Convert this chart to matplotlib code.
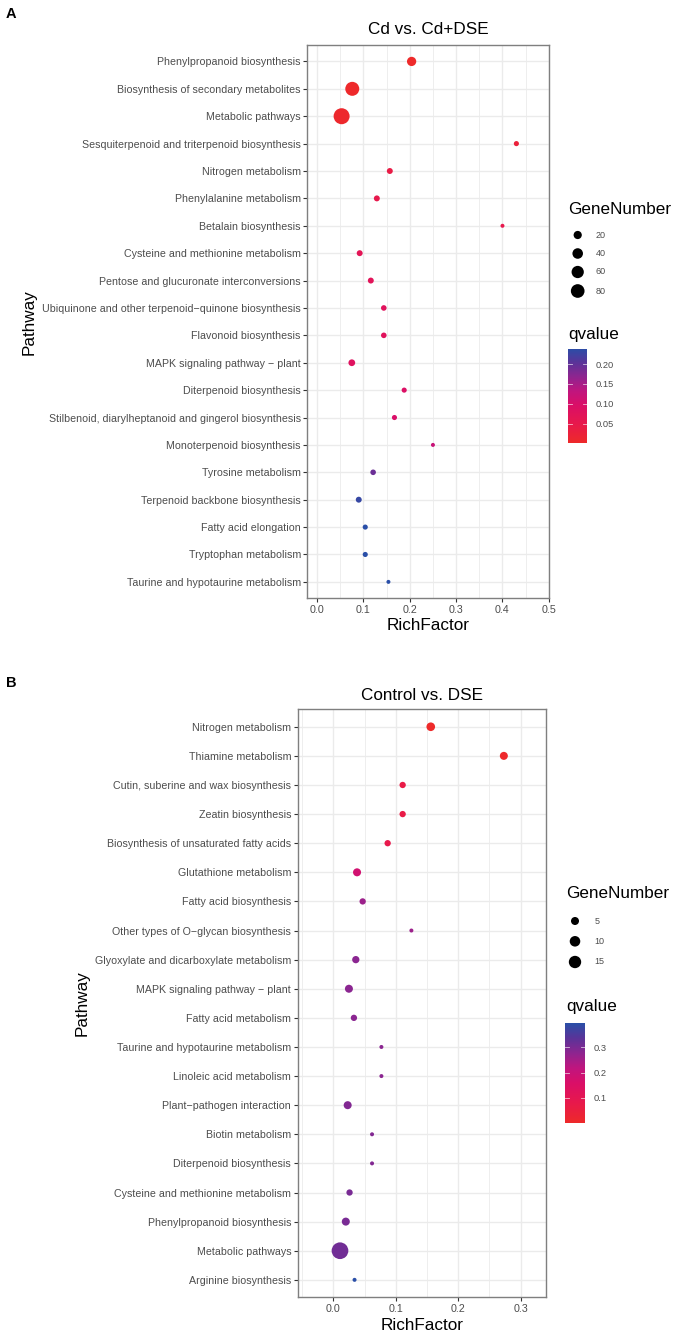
import numpy as np
import matplotlib
matplotlib.use('Agg')
import matplotlib.pyplot as plt
from matplotlib.colors import LinearSegmentedColormap

plt.rcParams['font.family'] = ['Liberation Sans', 'DejaVu Sans']

W, H = 681, 1336

# ---------------- Panel A data ----------------
a_title = "Cd vs. Cd+DSE"
a_pathways = [
    "Phenylpropanoid biosynthesis",
    "Biosynthesis of secondary metabolites",
    "Metabolic pathways",
    "Sesquiterpenoid and triterpenoid biosynthesis",
    "Nitrogen metabolism",
    "Phenylalanine metabolism",
    "Betalain biosynthesis",
    "Cysteine and methionine metabolism",
    "Pentose and glucuronate interconversions",
    "Ubiquinone and other terpenoid\u2212quinone biosynthesis",
    "Flavonoid biosynthesis",
    "MAPK signaling pathway \u2212 plant",
    "Diterpenoid biosynthesis",
    "Stilbenoid, diarylheptanoid and gingerol biosynthesis",
    "Monoterpenoid biosynthesis",
    "Tyrosine metabolism",
    "Terpenoid backbone biosynthesis",
    "Fatty acid elongation",
    "Tryptophan metabolism",
    "Taurine and hypotaurine metabolism",
]
a_rich = [0.204, 0.076, 0.053, 0.430, 0.157, 0.129, 0.400, 0.092, 0.116, 0.144,
          0.144, 0.075, 0.188, 0.167, 0.250, 0.121, 0.090, 0.104, 0.104, 0.154]
a_genes = [28, 85, 120, 7, 9, 9, 6, 9, 9, 8,
           8, 12, 7, 7, 6, 8, 9, 7, 7, 6]
a_qvalue = [0.001, 0.003, 0.006, 0.025, 0.040, 0.050, 0.050, 0.065, 0.070, 0.075,
            0.075, 0.080, 0.090, 0.095, 0.120, 0.190, 0.228, 0.237, 0.237, 0.237]
a_xticks = [0.0, 0.1, 0.2, 0.3, 0.4, 0.5]
a_xticklabels = ["0.0", "0.1", "0.2", "0.3", "0.4", "0.5"]
a_size_breaks = [20, 40, 60, 80]
a_q_ticks = [0.05, 0.10, 0.15, 0.20]
a_q_labels = ["0.05", "0.10", "0.15", "0.20"]

# ---------------- Panel B data ----------------
b_title = "Control vs. DSE"
b_pathways = [
    "Nitrogen metabolism",
    "Thiamine metabolism",
    "Cutin, suberine and wax biosynthesis",
    "Zeatin biosynthesis",
    "Biosynthesis of unsaturated fatty acids",
    "Glutathione metabolism",
    "Fatty acid biosynthesis",
    "Other types of O\u2212glycan biosynthesis",
    "Glyoxylate and dicarboxylate metabolism",
    "MAPK signaling pathway \u2212 plant",
    "Fatty acid metabolism",
    "Taurine and hypotaurine metabolism",
    "Linoleic acid metabolism",
    "Plant\u2212pathogen interaction",
    "Biotin metabolism",
    "Diterpenoid biosynthesis",
    "Cysteine and methionine metabolism",
    "Phenylpropanoid biosynthesis",
    "Metabolic pathways",
    "Arginine biosynthesis",
]
b_rich = [0.156, 0.273, 0.111, 0.111, 0.087, 0.038, 0.047, 0.125, 0.036, 0.025,
          0.033, 0.077, 0.077, 0.023, 0.062, 0.062, 0.026, 0.020, 0.0107, 0.034]
b_genes = [6, 5, 3, 3, 3, 5, 3, 2, 4, 5,
           3, 2, 2, 5, 2, 2, 3, 5, 32, 2]
b_qvalue = [0.002, 0.008, 0.070, 0.070, 0.080, 0.180, 0.260, 0.260, 0.280, 0.280,
            0.280, 0.280, 0.280, 0.290, 0.290, 0.290, 0.300, 0.300, 0.310, 0.395]
b_xticks = [0.0, 0.1, 0.2, 0.3]
b_xticklabels = ["0.0", "0.1", "0.2", "0.3"]
b_size_breaks = [5, 10, 15]
b_q_ticks = [0.1, 0.2, 0.3]
b_q_labels = ["0.1", "0.2", "0.3"]

cmap = LinearSegmentedColormap.from_list('q', [
    (0.00, '#EE2A2A'), (0.20, '#E8194C'), (0.40, '#DA0F68'), (0.55, '#C0167F'),
    (0.70, '#8E2590'), (0.85, '#5A3499'), (1.00, '#2A4FA8')], N=512)

TXT = '#4D4D4D'


def diam_px(g, gmin, gmax, dmin=4.0, dmax=16.0):
    g = np.asarray(g, dtype=float)
    return dmin + (dmax - dmin) * np.sqrt((g - gmin) / (gmax - gmin))


fig = plt.figure(figsize=(W / 100, H / 100), dpi=100)
overlay = fig.add_axes([0, 0, 1, 1])
overlay.set_xlim(0, W)
overlay.set_ylim(H, 0)
overlay.axis('off')
overlay.set_zorder(5)


def panel(box, title, title_y, xlab_y, paths, rich, genes, q, xlim, xticks, xlabels,
          size_breaks, qticks, qlabels, leg, dmax):
    l, t, r, b = box
    ax = fig.add_axes([l / W, 1 - b / H, (r - l) / W, (b - t) / H])
    n = len(paths)
    y = np.arange(n)
    gmin, gmax = min(genes), max(genes)
    d = diam_px(genes, gmin, gmax, dmax=dmax)
    qmin, qmax = min(q), max(q)
    ax.scatter(rich, y, s=(d * 0.72) ** 2, c=q, cmap=cmap, vmin=qmin, vmax=qmax,
               edgecolors='none', zorder=3)
    ax.set_xlim(*xlim)
    ax.set_ylim(n - 1 + 0.6, -0.6)
    ax.set_yticks(y)
    ax.set_yticklabels(paths)
    ax.set_xticks(xticks)
    ax.set_xticklabels(xlabels)
    step = xticks[1] - xticks[0]
    minors = [xticks[0] - step / 2] + [v + step / 2 for v in xticks]
    minors = [m for m in minors if xlim[0] < m < xlim[1]]
    ax.set_xticks(minors, minor=True)
    ax.grid(True, which='major', color='#EBEBEB', lw=1.0)
    ax.grid(True, which='minor', axis='x', color='#EBEBEB', lw=0.6)
    ax.set_axisbelow(True)
    ax.tick_params(which='major', length=3.2, width=0.8, color='#333333',
                   labelsize=7.7, labelcolor=TXT, pad=1.5)
    ax.tick_params(which='minor', length=0)
    for sp in ax.spines.values():
        sp.set_color('#7F7F7F')
        sp.set_linewidth(1.0)

    cx = (l + r) / 2
    fig.text(cx / W, 1 - title_y / H, title, ha='center', va='center', fontsize=12.3,
             color='black')
    fig.text(cx / W, 1 - xlab_y / H, "RichFactor", ha='center', va='center',
             fontsize=12.3, color='black')

    # Pathway label placed left of the widest tick label
    fig.canvas.draw()
    rend = fig.canvas.get_renderer()
    x0 = min(lbl.get_window_extent(rend).x0 for lbl in ax.get_yticklabels())
    fig.text((x0 - 12.5) / W, 1 - ((t + b) / 2) / H, "Pathway", rotation=90,
             ha='center', va='center', fontsize=12.3, color='black')

    # size legend
    fig.text(leg['tx'] / W, 1 - leg['gy'] / H, "GeneNumber", ha='left', va='center',
             fontsize=12.3, color='black')
    dk = diam_px(size_breaks, gmin, gmax, dmax=dmax)
    for sb, dd, yy in zip(size_breaks, dk, leg['dot_y']):
        overlay.scatter([leg['dot_x']], [yy], s=(dd * 0.72) ** 2, color='black',
                        edgecolors='none')
        overlay.text(leg['lab_x'], yy, str(sb), ha='left', va='center', fontsize=6.5,
                     color=TXT)
    fig.text(leg['tx'] / W, 1 - leg['qy'] / H, "qvalue", ha='left', va='center',
             fontsize=12.3, color='black')
    cl, ct, cr, cb = leg['cbar']
    cax = fig.add_axes([cl / W, 1 - cb / H, (cr - cl) / W, (cb - ct) / H])
    grad = np.linspace(qmin, qmax, 400).reshape(-1, 1)
    cax.imshow(grad, aspect='auto', cmap=cmap, origin='lower', interpolation='bilinear',
               extent=[0, 1, qmin, qmax], vmin=qmin, vmax=qmax)
    cax.set_xlim(0, 1)
    cax.set_ylim(qmin, qmax)
    for tq in qticks:
        cax.plot([0, 0.2], [tq, tq], color='white', lw=0.6, alpha=0.7)
        cax.plot([0.8, 1], [tq, tq], color='white', lw=0.6, alpha=0.7)
    cax.set_xticks([])
    cax.yaxis.tick_right()
    cax.set_yticks(qticks)
    cax.set_yticklabels(qlabels)
    cax.tick_params(axis='y', length=0, pad=6.5, labelsize=6.7, labelcolor=TXT)
    for sp in cax.spines.values():
        sp.set_visible(False)
    return ax


panel((307.3, 45, 549.3, 598.3), a_title, 30, 625, a_pathways, a_rich, a_genes, a_qvalue,
      (-0.021, 0.501), a_xticks, a_xticklabels, a_size_breaks, a_q_ticks, a_q_labels,
      dict(tx=568, gy=210, dot_x=577.7, dot_y=[235, 253.5, 272, 291], lab_x=595.5,
           qy=334, cbar=(567.7, 349.3, 586.7, 443.3)), dmax=16.0)

panel((297.7, 709.3, 545.7, 1297.3), b_title, 695, 1325, b_pathways, b_rich, b_genes,
      b_qvalue, (-0.057, 0.340), b_xticks, b_xticklabels, b_size_breaks, b_q_ticks,
      b_q_labels,
      dict(tx=566, gy=894, dot_x=575, dot_y=[921, 941.3, 962], lab_x=594.3,
           qy=1006.7, cbar=(565, 1023.3, 585, 1122.7)), dmax=16.7)

fig.text(6 / W, 1 - 13.5 / H, "A", ha='left', va='center', fontsize=10.5,
         fontweight='bold', color='black')
fig.text(6 / W, 1 - 683 / H, "B", ha='left', va='center', fontsize=10.5,
         fontweight='bold', color='black')

fig.savefig('out.png', dpi=100)
